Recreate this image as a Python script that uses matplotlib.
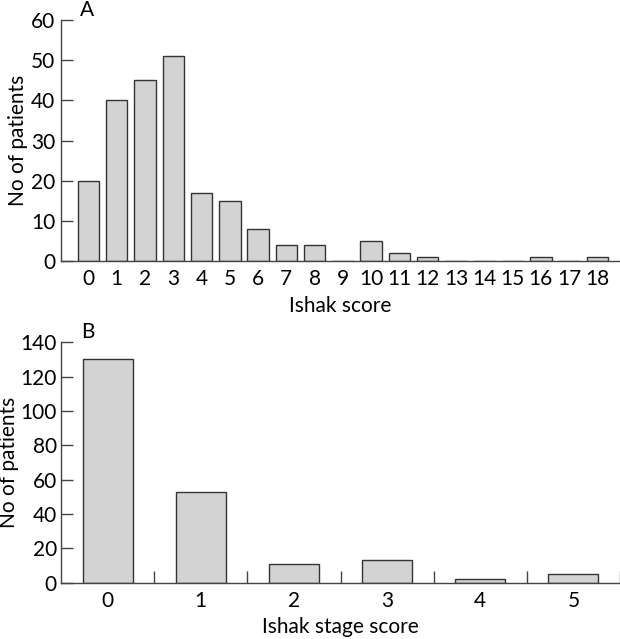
import numpy as np
import matplotlib.pyplot as plt

# Panel A: Ishak score distribution
ishak_scores = list(range(19))
ishak_counts = [20, 40, 45, 51, 17, 15, 8, 4, 4, 0, 5, 2, 1, 0, 0, 0, 1, 0, 1]

# Panel B: Ishak stage score distribution
stage_scores = [0, 1, 2, 3, 4, 5]
stage_counts = [130, 53, 11, 13, 2, 5]

plt.rcParams['font.family'] = ['Lato', 'DejaVu Sans']
fs = 15

bar_color = '#d3d3d3'
edge_color = '#333333'
axis_color = '#444444'

fig = plt.figure(figsize=(6.2, 6.39), dpi=100)

# --- A ---
axA = fig.add_axes([0.0984, 0.5915, 0.9016, 0.3772])
axA.bar(ishak_scores, ishak_counts, width=0.76, color=bar_color,
        edgecolor=edge_color, linewidth=1.0)
axA.set_xlim(-0.97, 18.8)
axA.set_ylim(0, 60)
axA.set_yticks([0, 10, 20, 30, 40, 50, 60])
axA.set_xticks(ishak_scores)
axA.tick_params(axis='x', length=0, pad=6, labelsize=fs)
axA.tick_params(axis='y', direction='in', length=8.5, width=1.0,
                color=axis_color, pad=4, labelsize=fs)
axA.set_xlabel('Ishak score', fontsize=fs, labelpad=5)
axA.set_ylabel('No of patients', fontsize=fs, labelpad=2)
for s in ['top', 'right']:
    axA.spines[s].set_visible(False)
for s in ['left', 'bottom']:
    axA.spines[s].set_color(axis_color)
    axA.spines[s].set_linewidth(1.0)
axA.text(0.033, 1.0, 'A', transform=axA.transAxes, fontsize=fs,
         ha='left', va='bottom')

# --- B ---
axB = fig.add_axes([0.0984, 0.0881, 0.9016, 0.3762])
axB.bar(stage_scores, stage_counts, width=0.535, color=bar_color,
        edgecolor=edge_color, linewidth=1.0)
axB.set_xlim(-0.5, 5.5)
axB.set_ylim(0, 140)
axB.set_yticks(np.arange(0, 141, 20))
axB.set_xticks(stage_scores)
axB.set_xticks(np.arange(0.5, 5.6, 1.0), minor=True)
axB.tick_params(axis='x', which='major', length=0, pad=6, labelsize=fs)
axB.tick_params(axis='x', which='minor', direction='in', length=9,
                width=1.0, color=axis_color)
axB.tick_params(axis='y', direction='in', length=8.5, width=1.0,
                color=axis_color, pad=3, labelsize=fs)
axB.set_xlabel('Ishak stage score', fontsize=fs, labelpad=4)
axB.set_ylabel('No of patients', fontsize=fs, labelpad=1)
for s in ['top', 'right']:
    axB.spines[s].set_visible(False)
for s in ['left', 'bottom']:
    axB.spines[s].set_color(axis_color)
    axB.spines[s].set_linewidth(1.0)
axB.text(0.036, 1.0, 'B', transform=axB.transAxes, fontsize=fs,
         ha='left', va='bottom')

fig.savefig('out.png', dpi=100)
